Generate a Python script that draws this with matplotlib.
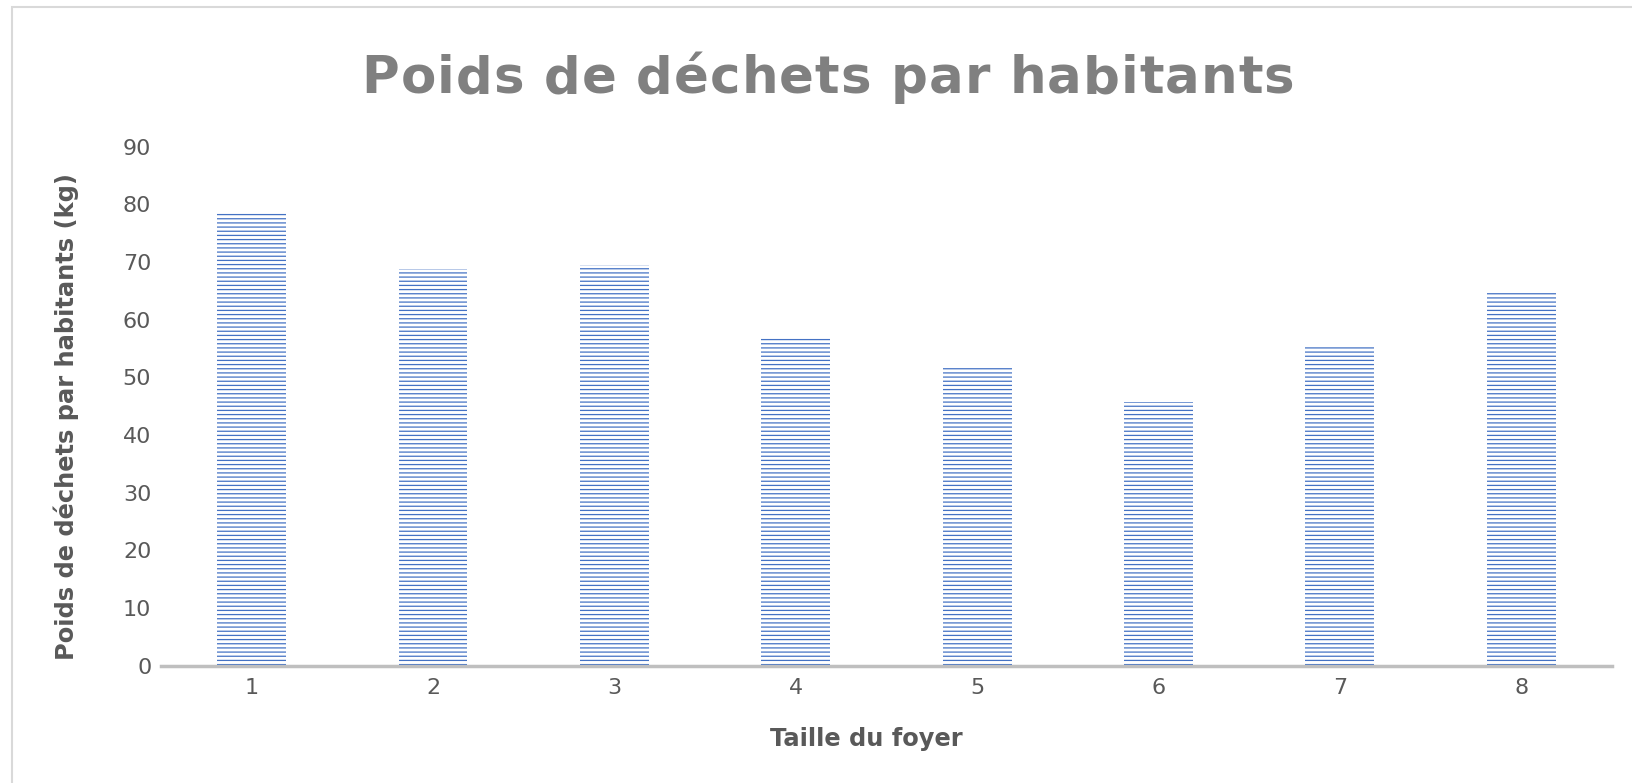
import matplotlib
matplotlib.use('agg')
import matplotlib.pyplot as plt
import matplotlib.patches as mpatches
import numpy as np

# household size vs waste weight per inhabitant
foyer = ['1', '2', '3', '4', '5', '6', '7', '8']
poids = [78.6, 68.8, 69.4, 56.9, 51.6, 45.7, 55.6, 65.0]
y_ticks = [0, 10, 20, 30, 40, 50, 60, 70, 80, 90]
titre = 'Poids de déchets par habitants'

plt.rcParams['hatch.linewidth'] = 0.9

fig = plt.figure(figsize=(16.33, 7.83), dpi=100)
ax = fig.add_axes([0.0986, 0.150, 0.8884, 0.6627])

x = np.arange(len(foyer))
ax.bar(x, poids, width=0.38, facecolor='white', edgecolor='#4472C4',
       linewidth=0, hatch='----', zorder=2)

ax.set_xlim(-0.5, len(foyer) - 0.5)
ax.set_ylim(0, 90)
ax.set_xticks(x)
ax.set_xticklabels(foyer)
ax.set_yticks(y_ticks)

for s in ['top', 'right', 'left']:
    ax.spines[s].set_visible(False)
ax.spines['bottom'].set_color('#BFBFBF')
ax.spines['bottom'].set_linewidth(2.5)
ax.spines['bottom'].set_zorder(3)

ax.tick_params(axis='both', length=0, labelsize=16, labelcolor='#595959')
ax.tick_params(axis='y', pad=7)
ax.tick_params(axis='x', pad=9)

ax.set_xlabel('Taille du foyer', fontsize=17.4, fontweight='bold',
              color='#595959', va='center')
ax.xaxis.set_label_coords(0.486, -0.1406)
ax.set_ylabel('Poids de déchets par habitants (kg)', fontsize=17.4,
              fontweight='bold', color='#595959', va='center')
ax.yaxis.set_label_coords(-0.0653, 0.48)

# title with a little letter spacing, drawn char by char
fig.canvas.draw()
renderer = fig.canvas.get_renderer()
spacing = 1.0
props = dict(fontsize=37, fontweight='bold', color='#808080', va='baseline')
widths = []
for ch in titre:
    t = fig.text(0, 0, ch if ch != ' ' else 'a a', **props)
    w = t.get_window_extent(renderer).width
    if ch == ' ':
        t2 = fig.text(0, 0, 'aa', **props)
        w = w - t2.get_window_extent(renderer).width
        t2.remove()
    t.remove()
    widths.append(w)
total = sum(widths) + spacing * (len(titre) - 1)
cx = 0.507 * 1633
xpos = cx - total / 2
base_y = 783 - 93
for ch, w in zip(titre, widths):
    if ch != ' ':
        fig.text(xpos / 1633, base_y / 783, ch, **props)
    xpos += w + spacing

# chart area border
border = mpatches.Rectangle((12.5 / 1633, -0.2), 1.2, 1.2 - 7 / 783,
                            transform=fig.transFigure, fill=False,
                            edgecolor='#D9D9D9', linewidth=1.5)
fig.patches.append(border)

fig.savefig('out.png', dpi=100)
